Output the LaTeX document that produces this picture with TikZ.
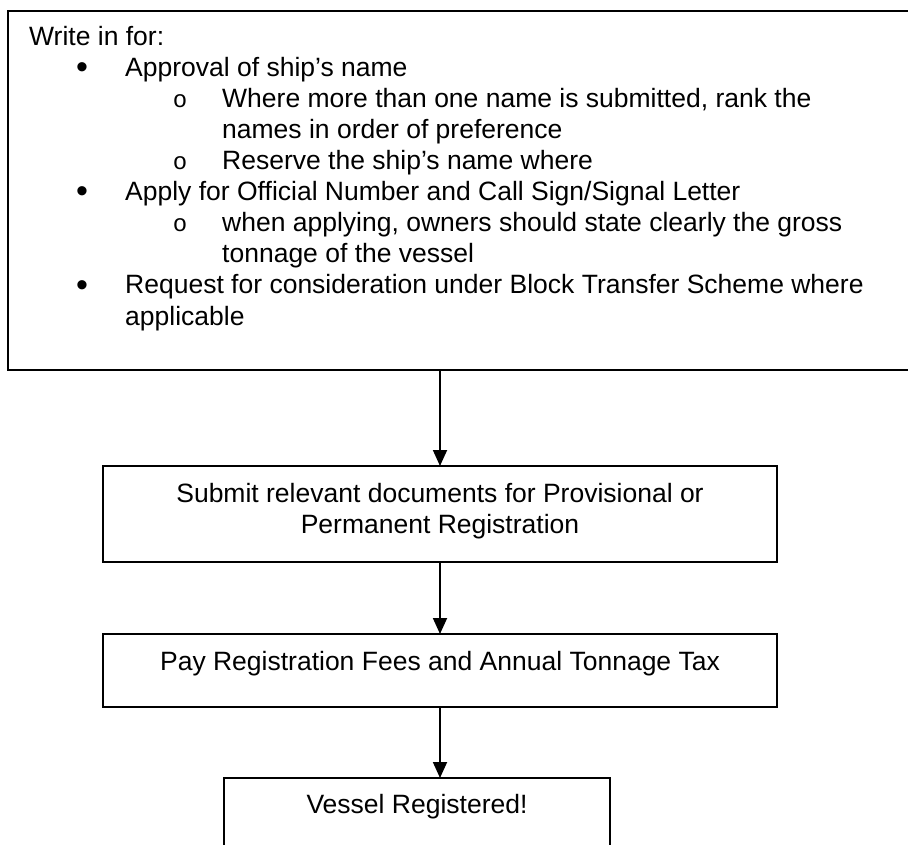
\documentclass[tikz,border=0pt]{standalone}
\usepackage{fontspec}
\setmainfont{Liberation Sans}
\newfontfamily\markfont{Liberation Mono}
\usetikzlibrary{arrows.meta}
\begin{document}
\begin{tikzpicture}[x=1pt,y=-1pt,
  boxstyle/.style={draw=black, line width=1.8pt, inner sep=0pt, outer sep=0pt, rectangle},
  txt/.style={anchor=base west, inner sep=0pt, font=\fontsize{26.5}{31}\selectfont},
  ctxt/.style={anchor=base, inner sep=0pt, font=\fontsize{26.5}{31}\selectfont},
  bul/.style={anchor=base, inner sep=0pt, font=\fontsize{34}{31}\selectfont},
  circ/.style={anchor=base, inner sep=0pt, font=\markfont\fontsize{24}{31}\selectfont},
  flow/.style={line width=1.8pt, -{Triangle[length=16pt,width=14pt]}}]
\useasboundingbox (0,0) rectangle (908,845);
\clip (0,0) rectangle (908,845);
% top box (runs past the right edge)
\node[boxstyle, anchor=north west, minimum width=920pt, minimum height=359pt] (b1) at (8,11) {};
\node[txt] (t0) at (29,46) {Write in for:};
\node[bul] (k1) at (82,79) {•};
\node[txt] (t1) at (125,77) {Approval of ship’s name};
\node[circ] (c1) at (180,108) {o};
\node[txt] (t2) at (222,108) {Where more than one name is submitted, rank the};
\node[txt] (t3) at (222,139) {names in order of preference};
\node[circ] (c2) at (180,170) {o};
\node[txt] (t4) at (222,170) {Reserve the ship’s name where};
\node[bul] (k2) at (82,203) {•};
\node[txt] (t5) at (125,201) {Apply for Official Number and Call Sign/Signal Letter};
\node[circ] (c3) at (180,232) {o};
\node[txt] (t6) at (222,232) {when applying, owners should state clearly the gross};
\node[txt] (t7) at (222,263) {tonnage of the vessel};
\node[bul] (k3) at (82,296) {•};
\node[txt] (t8) at (125,294) {Request for consideration under Block Transfer Scheme where};
\node[txt] (t9) at (125,325) {applicable};
% second box
\node[boxstyle, anchor=north west, minimum width=674pt, minimum height=96pt] (b2) at (103,466) {};
\node[ctxt] (s1) at (440,502) {Submit relevant documents for Provisional or};
\node[ctxt] (s2) at (440,533) {Permanent Registration};
% third box
\node[boxstyle, anchor=north west, minimum width=674pt, minimum height=73pt] (b3) at (103,634) {};
\node[ctxt] (p1) at (440,670) {Pay Registration Fees and Annual Tonnage Tax};
% fourth box (runs past the bottom edge)
\node[boxstyle, anchor=north west, minimum width=386pt, minimum height=100pt] (b4) at (224,778) {};
\node[ctxt] (v1) at (417,813) {Vessel Registered!};
% connectors
\draw[flow] (b2.north |- b1.south) -- (b2.north);
\draw[flow] (b2.south) -- (b3.north);
\draw[flow] (b3.south) -- (b3.south |- b4.north);
\end{tikzpicture}
\end{document}
